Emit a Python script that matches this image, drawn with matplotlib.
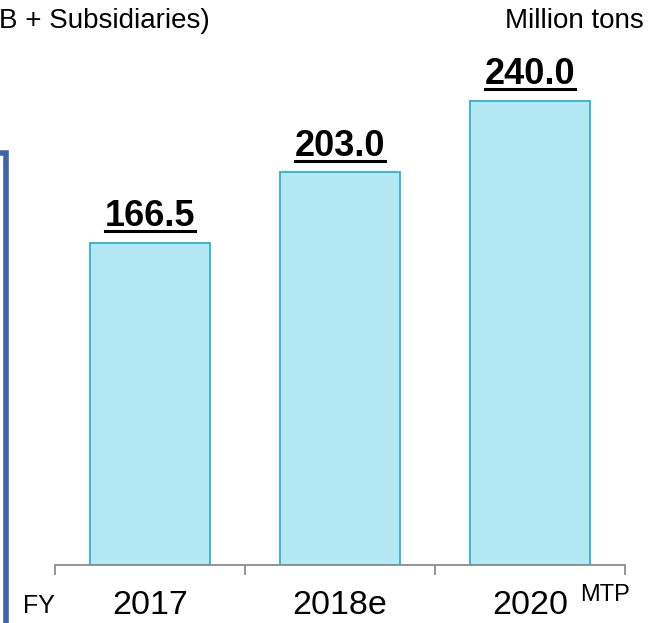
import matplotlib
matplotlib.use('Agg')
import matplotlib.pyplot as plt
from matplotlib.lines import Line2D

categories = ['2017', '2018e', '2020']
values = [166.5, 203.0, 240.0]
value_labels = ['166.5', '203.0', '240.0']

plt.rcParams['font.family'] = ['Liberation Sans', 'DejaVu Sans']

W, H = 661, 623
fig = plt.figure(figsize=(W / 100, H / 100), dpi=100)

# axes: baseline at y=565px, categories span 55..625px
ax = fig.add_axes([55 / W, (H - 565) / H, 570 / W, 483.5 / H])
x = list(range(len(categories)))
ax.bar(x, values, width=0.632, color='#B4E8F2', edgecolor='#2AB3D3', linewidth=1.3, zorder=2)
ax.set_xlim(-0.5, 2.5)
ax.set_ylim(0, 250)

for spine in ['top', 'right', 'left']:
    ax.spines[spine].set_visible(False)
ax.spines['bottom'].set_color('#8C8C8C')
ax.spines['bottom'].set_linewidth(1.3)
ax.set_yticks([])
ax.set_xticks([-0.5, 0.5, 1.5, 2.5])
ax.set_xticklabels([])
ax.tick_params(axis='x', length=7.5, width=1.3, color='#8C8C8C', direction='out')

offset_pt = 12
labels = []
for xi, v, lab in zip(x, values, value_labels):
    t = ax.annotate(lab, (xi, v), xytext=(0, offset_pt), textcoords='offset points', ha='center',
                    va='baseline', fontsize=26, fontweight='bold', color='black')
    labels.append((t, xi, v))

# underlines under value labels
fig.canvas.draw()
renderer = fig.canvas.get_renderer()
for t, xi, v in labels:
    bb = t.get_window_extent(renderer)
    y_base = ax.transData.transform((xi, v))[1] + offset_pt * 100 / 72
    y_ul = y_base - 5
    fig.add_artist(Line2D([bb.x0 / W, bb.x1 / W], [y_ul / H, y_ul / H], color='black', lw=2.2,
                          transform=fig.transFigure))

# category labels
for xi, c in zip(x, categories):
    xd = ax.transData.transform((xi, 0))[0]
    fig.text(xd / W, 1 - 606 / H, c, ha='center', va='center', fontsize=24.5)
fig.text(39 / W, 1 - 606 / H, 'FY', ha='center', va='center', fontsize=18)
fig.text(605 / W, 1 - 595 / H, 'MTP', ha='center', va='center', fontsize=17)

fig.text(574 / W, 1 - 21 / H, 'Million tons', ha='center', va='center', fontsize=20)
fig.text(210 / W, 1 - 21 / H, 'B + Subsidiaries)', ha='right', va='center', fontsize=20)

# left panel border
fig.add_artist(Line2D([0, 5.5 / W, 5.5 / W], [1 - 153 / H, 1 - 153 / H, 0], color='#3F64A8', lw=4,
                      transform=fig.transFigure, solid_joinstyle='miter'))

fig.savefig('out.png', dpi=100)
